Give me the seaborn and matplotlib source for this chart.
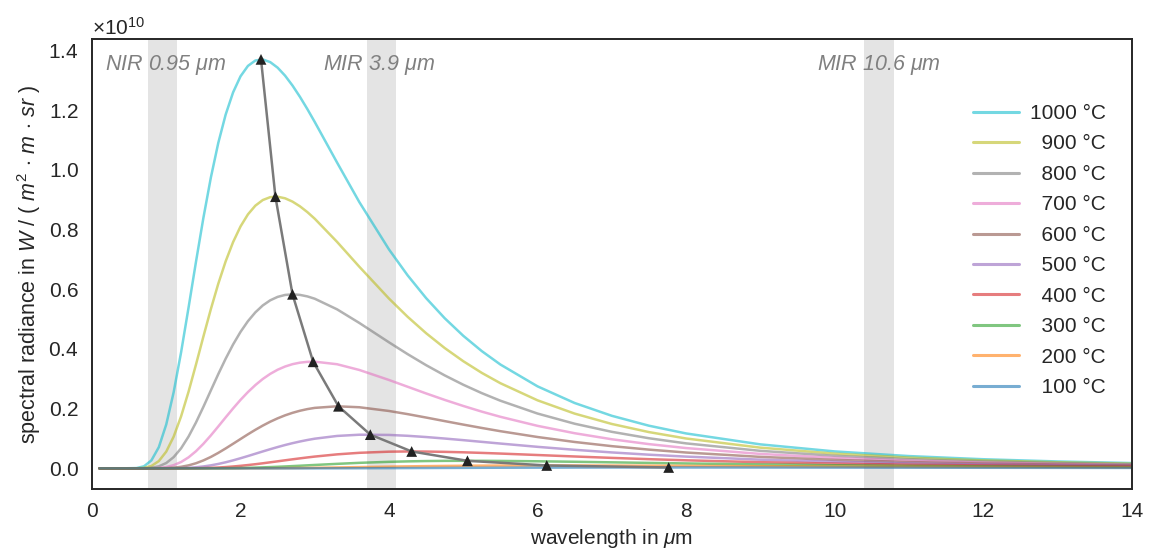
import numpy as np
import pandas as pd
import matplotlib
matplotlib.use("Agg")
import matplotlib.pyplot as plt
import seaborn as sns

# === Values (radiance in units of 1e10 W/(m^2 m sr)) ===
wavelength = [0.1, 0.4, 0.6, 0.7, 0.8, 0.9,
              1.0, 1.1, 1.2, 1.3, 1.4, 1.5, 1.6, 1.7, 1.8, 1.9,
              2.0, 2.1, 2.2, 2.3, 2.4, 2.5, 2.6, 2.7, 2.8, 2.9, 3.0,
              3.3, 3.6, 4.0, 4.25, 4.5, 4.75, 5.0, 5.25, 5.5,
              6.0, 6.5, 7.0, 7.5, 8.0, 9.0, 10.0, 11.0, 12.0, 13.0, 14.0]

temps = ["1000 °C", "  900 °C", "  800 °C", "  700 °C", "  600 °C",
         "  500 °C", "  400 °C", "  300 °C", "  200 °C", "  100 °C"]

rad_1000 = [0, 0, 0.0010, 0.0069, 0.0267, 0.0710,
            0.1472, 0.2554, 0.3891, 0.5382, 0.6915, 0.8389, 0.9733, 1.0895, 1.1851, 1.2594,
            1.3132, 1.3481, 1.3661, 1.3696, 1.3608, 1.3421, 1.3154, 1.2823, 1.2446, 1.2035, 1.1601,
            1.0245, 0.8919, 0.7331, 0.6467, 0.5701, 0.5028, 0.4440, 0.3926, 0.3478,
            0.2747, 0.2189, 0.1761, 0.1429, 0.1170, 0.0804, 0.0568, 0.0412, 0.0306, 0.0232, 0.0178]
rad_900 = [0, 0, 0.0002, 0.0017, 0.0080, 0.0244,
           0.0562, 0.1064, 0.1744, 0.2566, 0.3475, 0.4414, 0.5329, 0.6180, 0.6935, 0.7579,
           0.8103, 0.8508, 0.8800, 0.8988, 0.9084, 0.9099, 0.9046, 0.8935, 0.8778, 0.8584, 0.8361,
           0.7587, 0.6754, 0.5686, 0.5078, 0.4526, 0.4030, 0.3589, 0.3197, 0.2852,
           0.2279, 0.1834, 0.1487, 0.1215, 0.1001, 0.0694, 0.0494, 0.0361, 0.0269, 0.0205, 0.0158]
rad_800 = [0, 0, 0, 0.0003, 0.0019, 0.0068,
           0.0179, 0.0377, 0.0673, 0.1065, 0.1536, 0.2060, 0.2608, 0.3154, 0.3673, 0.4150,
           0.4571, 0.4931, 0.5226, 0.5458, 0.5629, 0.5744, 0.5809, 0.5829, 0.5811, 0.5760, 0.5682,
           0.5327, 0.4871, 0.4221, 0.3827, 0.3456, 0.3114, 0.2801, 0.2519, 0.2266,
           0.1836, 0.1495, 0.1224, 0.1009, 0.0837, 0.0587, 0.0422, 0.0310, 0.0233, 0.0178, 0.0138]
rad_700 = [0, 0, 0, 0, 0.0003, 0.0015,
           0.0045, 0.0108, 0.0213, 0.0369, 0.0574, 0.0822, 0.1102, 0.1402, 0.1708, 0.2008,
           0.2294, 0.2556, 0.2790, 0.2994, 0.3165, 0.3304, 0.3411, 0.3490, 0.3541, 0.3568, 0.3574,
           0.3488, 0.3296, 0.2960, 0.2734, 0.2509, 0.2293, 0.2090, 0.1900, 0.1727,
           0.1424, 0.1177, 0.0975, 0.0812, 0.0680, 0.0484, 0.0352, 0.0261, 0.0197, 0.0151, 0.0118]
rad_600 = [0, 0, 0, 0, 0, 0.0002,
           0.0008, 0.0023, 0.0052, 0.0100, 0.0171, 0.0266, 0.0382, 0.0518, 0.0667, 0.0824,
           0.0983, 0.1141, 0.1292, 0.1433, 0.1562, 0.1676, 0.1776, 0.1860, 0.1930, 0.1985, 0.2026,
           0.2079, 0.2047, 0.1922, 0.1817, 0.1702, 0.1583, 0.1466, 0.1353, 0.1245,
           0.1050, 0.0884, 0.0744, 0.0628, 0.0531, 0.0385, 0.0284, 0.0213, 0.0162, 0.0126, 0.0099]
rad_500 = [0, 0, 0, 0, 0, 0,
           0.0001, 0.0003, 0.0009, 0.0019, 0.0037, 0.0064, 0.0101, 0.0148, 0.0204, 0.0268,
           0.0339, 0.0413, 0.0490, 0.0567, 0.0642, 0.0714, 0.0782, 0.0844, 0.0900, 0.0950, 0.0994,
           0.1086, 0.1127, 0.1120, 0.1091, 0.1049, 0.0999, 0.0945, 0.0888, 0.0831,
           0.0721, 0.0622, 0.0534, 0.0458, 0.0394, 0.0292, 0.0219, 0.0167, 0.0129, 0.0101, 0.0080]
rad_400 = [0, 0, 0, 0, 0, 0,
           0, 0, 0.0001, 0.0002, 0.0005, 0.0010, 0.0018, 0.0029, 0.0044, 0.0063,
           0.0085, 0.0111, 0.0139, 0.0170, 0.0203, 0.0236, 0.0270, 0.0303, 0.0335, 0.0366, 0.0395,
           0.0469, 0.0521, 0.0559, 0.0566, 0.0563, 0.0553, 0.0538, 0.0518, 0.0496,
           0.0447, 0.0398, 0.0351, 0.0308, 0.0270, 0.0207, 0.0159, 0.0124, 0.0097, 0.0077, 0.0062]
rad_300 = [0, 0, 0, 0, 0, 0,
           0, 0, 0, 0, 0, 0.0001, 0.0002, 0.0003, 0.0006, 0.0009,
           0.0013, 0.0019, 0.0026, 0.0034, 0.0043, 0.0053, 0.0064, 0.0076, 0.0088, 0.0101, 0.0114,
           0.0151, 0.0185, 0.0219, 0.0234, 0.0245, 0.0251, 0.0253, 0.0253, 0.0249,
           0.0237, 0.0221, 0.0202, 0.0183, 0.0165, 0.0132, 0.0105, 0.0084, 0.0067, 0.0054, 0.0044]
rad_200 = [0, 0, 0, 0, 0, 0,
           0, 0, 0, 0, 0, 0, 0, 0, 0.00003, 0.00005,
           0.00009, 0.00015, 0.00023, 0.00034, 0.00047, 0.00064, 0.00084, 0.00107, 0.00133, 0.00162, 0.00194,
           0.00303, 0.00423, 0.00581, 0.00671, 0.00751, 0.00818, 0.00873, 0.00914, 0.00943,
           0.00970, 0.00963, 0.00932, 0.00886, 0.00831, 0.00712, 0.00598, 0.00497, 0.00413, 0.00342, 0.00285]
rad_100 = [0, 0, 0, 0, 0, 0,
           0, 0, 0, 0, 0, 0, 0, 0, 0, 0,
           0, 0, 0.00001, 0.00001, 0.00002, 0.00002, 0.00004, 0.00005, 0.00007, 0.00010, 0.00013,
           0.00026, 0.00044, 0.00076, 0.00099, 0.00123, 0.00147, 0.00171, 0.00193, 0.00214,
           0.00248, 0.00273, 0.00288, 0.00295, 0.00296, 0.00282, 0.00257, 0.00229, 0.00201, 0.00174, 0.00151]

# peak positions, marked with triangles
peak_wavelength = [2.276, 2.470, 2.700, 2.978, 3.319, 3.748, 4.305, 5.056, 6.124, 7.766]
peak_radiance = [1.370, 0.910, 0.583, 0.357, 0.208, 0.113, 0.0566, 0.0253, 0.0097, 0.0030]

# shaded detector bands
bands = [(0.75, 1.15), (3.7, 4.1), (10.4, 10.8)]
band_labels = [r"NIR 0.95 $\mu m$", r"MIR 3.9 $\mu m$", r"MIR 10.6 $\mu m$"]
band_label_x = [0.17, 3.11, 9.76]

scale = 1e10

# --- build long table ---
series = [rad_1000, rad_900, rad_800, rad_700, rad_600, rad_500, rad_400, rad_300, rad_200, rad_100]
rows = []
for label, vals in zip(temps, series):
    for w, v in zip(wavelength, vals):
        rows.append({"wavelength": w, "radiance": v * scale, "temp": label})
df = pd.DataFrame(rows)
peaks = pd.DataFrame({"wavelength": peak_wavelength,
                      "radiance": [p * scale for p in peak_radiance]})

# --- style ---
sns.set_theme(style="white")
plt.rcParams["font.family"] = ["Liberation Sans", "DejaVu Sans"]
plt.rcParams["mathtext.fontset"] = "custom"
plt.rcParams["mathtext.rm"] = "Liberation Sans"
plt.rcParams["mathtext.it"] = "Liberation Sans:italic"
plt.rcParams["mathtext.bf"] = "Liberation Sans:bold"

fig = plt.figure(figsize=(11.5, 5.48), dpi=100)
ax = fig.add_axes([0.080, 0.108, 0.904, 0.821])

for (lo, hi) in bands:
    ax.axvspan(lo, hi, color="#e4e4e4", lw=0, zorder=0)

palette = list(reversed(sns.color_palette("tab10", 10)))
sns.lineplot(data=df, x="wavelength", y="radiance", hue="temp", hue_order=temps,
             palette=palette, estimator=None, alpha=0.6, linewidth=1.8, ax=ax)

sns.lineplot(data=peaks, x="wavelength", y="radiance", color="#7a7a7a", linewidth=1.8,
             sort=False, estimator=None, ax=ax, legend=False, zorder=3)
sns.scatterplot(data=peaks, x="wavelength", y="radiance", marker="^", color="#222222",
                s=60, edgecolor="none", ax=ax, legend=False, zorder=4)

for txt, x in zip(band_labels, band_label_x):
    ax.text(x, 1.35 * scale, txt, ha="left", va="center", fontsize=15.5,
            style="italic", color="#808080")

ax.set_xlim(0, 14)
ax.set_xticks(range(0, 15, 2))
ax.ticklabel_format(axis="y", style="sci", scilimits=(0, 0), useMathText=True)
ax.yaxis.get_offset_text().set_fontsize(15)
ax.tick_params(labelsize=15)

ax.set_xlabel(r"wavelength in $\mu$m", fontsize=15)
ax.set_ylabel(r"spectral radiance in $W\ /\ (\ m^2\,\cdot\,m\,\cdot\,sr\ )$", fontsize=15.5)

for s in ax.spines.values():
    s.set_color("#262626")
    s.set_linewidth(1.4)

handles, labels = ax.get_legend_handles_labels()
leg = ax.legend(handles, labels, loc="upper right", bbox_to_anchor=(0.993, 0.897),
                frameon=False, fontsize=15, handlelength=2.2, handletextpad=0.5,
                labelspacing=0.55)
for h in leg.get_lines():
    h.set_linewidth(2.2)

plt.savefig("out.png", dpi=100)
